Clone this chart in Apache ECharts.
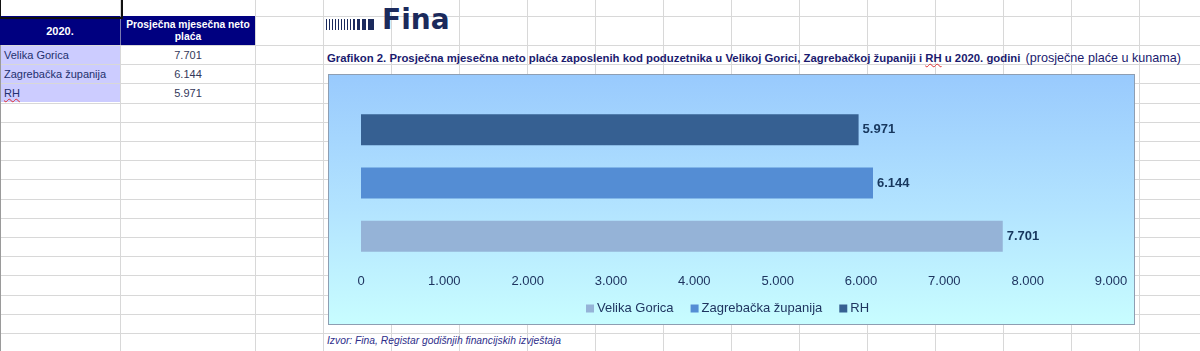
<!DOCTYPE html>
<html>
<head>
<meta charset="utf-8">
<script src="https://cdn.jsdelivr.net/npm/echarts@6/dist/echarts.min.js"></script>
<style>
body { margin: 0; width: 1200px; height: 351px; position: relative; overflow: hidden; background: #fff; font-family: "Liberation Sans", Arial, sans-serif; }
.hl { position: absolute; left: 0; width: 1200px; height: 1px; background: #d8d8d8; }
.vl { position: absolute; top: 0; height: 351px; width: 1px; background: #d8d8d8; }
.cell { position: absolute; box-sizing: border-box; display: flex; align-items: center; font-size: 11px; }
#logo { position: absolute; left: 326px; top: 6px; height: 30px; }
#logo .bar { position: absolute; bottom: 6px; height: 11px; background: #1b2a5c; }
#logo .word { position: absolute; left: 56px; top: -3px; font-family: "DejaVu Sans", sans-serif; font-weight: bold; font-size: 28px; color: #1b2a5c; }
#title { position: absolute; left: 327px; top: 51px; white-space: nowrap; color: #1a1a6e; font-size: 11.35px; font-weight: bold; }
#title .sub { font-weight: normal; font-size: 12.6px; margin-left: 2px; }
#source { position: absolute; left: 327px; top: 335px; white-space: nowrap; color: #2e2e8a; font-size: 10.3px; font-style: italic; font-family: "Liberation Sans Narrow", "Liberation Sans", sans-serif; }
#box { position: absolute; left: 328px; top: 74px; width: 807px; height: 251px; box-sizing: border-box; border: 1px solid #8e9eb2; background: linear-gradient(to bottom, #99cafd 0%, #b3e4ff 55%, #c8fdff 100%); }
#chart { position: absolute; left: 0; top: 0; width: 805px; height: 249px; }
.wavy { text-decoration: underline wavy #e03030; text-decoration-thickness: 1px; }
</style>
</head>
<body>
<div id="grid"></div>

<div class="cell" style="left:0;top:16px;width:121px;height:29px;background:#000080;"></div>
<div class="cell" style="left:121px;top:16px;width:134px;height:29px;background:#000080;"></div>
<div class="vl" style="left:120px;top:16px;height:29px;background:#7a7ab0;"></div>
<div class="cell" style="left:0;top:16px;width:120px;height:29px;justify-content:center;color:#fff;font-weight:bold;">2020.</div>
<div class="cell" style="left:121px;top:16px;width:134px;height:29px;justify-content:center;text-align:center;color:#fff;font-weight:bold;font-size:10.3px;line-height:12px;">Prosječna mjesečna neto<br>plaća</div>

<div id="rows"></div>

<div style="position:absolute;left:-1px;top:-2px;width:120px;height:17px;border:2px solid #111;"></div>

<div id="logo"></div>
<div id="title">Grafikon 2. Prosječna mjesečna neto plaća zaposlenih kod poduzetnika u Velikoj Gorici, Zagrebačkoj županiji i <span class="wavy">RH</span> u 2020. godini <span class="sub">(prosječne plaće u kunama)</span></div>

<div id="box"><div id="chart"></div></div>

<div id="source">Izvor: Fina, Registar godišnjih financijskih izvještaja</div>

<script>
// podaci
let categories = ['Velika Gorica', 'Zagrebačka županija', 'RH'];
let values = [7701, 6144, 5971];
let tableValues = ['7.701', '6.144', '5.971'];
let axisMin = 0;
let axisMax = 9000;
let axisStep = 1000;

let barColors = ['#95b3d7', '#548dd4', '#366092'];

// mreža tablice
let GRID = document.getElementById('grid');
let rowLines = [16];
for (let k = 0; k <= 16; k++) rowLines.push(45 + k * 19.2);
let colLines = [120, 255];
for (let x = 323; x < 1200; x += 68) colLines.push(x);
rowLines.forEach(y => {
	let D = document.createElement('div');
	D.className = 'hl';
	D.style.top = Math.round(y) + 'px';
	GRID.appendChild(D);
});
colLines.forEach(x => {
	let D = document.createElement('div');
	D.className = 'vl';
	D.style.left = Math.round(x) + 'px';
	GRID.appendChild(D);
});
let L = document.createElement('div');
L.className = 'vl';
L.style.left = '0px';
L.style.background = '#9a9a9a';
GRID.appendChild(L);

// redovi tablice
let ROWS = document.getElementById('rows');
categories.forEach((name, i) => {
	let top = Math.round(45 + i * 19.2) + 1;
	let A = document.createElement('div');
	A.className = 'cell';
	A.style.cssText = 'left:1px;top:' + top + 'px;width:119px;height:18px;background:#ccccff;color:#23306e;padding-left:3px;';
	if (name === 'RH') {
		A.innerHTML = '<span class="wavy">RH</span>';
	} else {
		A.textContent = name;
	}
	ROWS.appendChild(A);
	let B = document.createElement('div');
	B.className = 'cell';
	B.style.cssText = 'left:121px;top:' + top + 'px;width:134px;height:18px;justify-content:center;color:#33385a;';
	B.textContent = tableValues[i];
	ROWS.appendChild(B);
});

// logo
let LOGO = document.getElementById('logo');
let stripes = [[0,1],[3,1],[6,1],[9,1],[12,1],[15,1],[18,1],[21,1],[24,1],[27,2],[31,3],[36,4],[42,6]];
stripes.forEach(s => {
	let S = document.createElement('div');
	S.className = 'bar';
	S.style.left = s[0] + 'px';
	S.style.width = s[1] + 'px';
	LOGO.appendChild(S);
});
let WORD = document.createElement('div');
WORD.className = 'word';
WORD.textContent = 'Fina';
LOGO.appendChild(WORD);

function fmt(v) {
	return String(v).replace(/\B(?=(\d{3})+(?!\d))/g, '.');
}

let myChart = echarts.init(document.getElementById('chart'));

let series = categories.map((name, i) => ({
	name: name,
	type: 'bar',
	stack: 'placa',
	barWidth: 31,
	itemStyle: { color: barColors[i] },
	label: {
		show: true,
		position: 'right',
		distance: 4,
		fontFamily: 'Liberation Sans',
		fontWeight: 'bold',
		fontSize: 13,
		color: '#17375e',
		formatter: p => fmt(p.value)
	},
	data: categories.map((c, j) => (j === i ? values[i] : '-'))
}));

let option = {
	backgroundColor: 'transparent',
	animation: false,
	legend: {
		data: categories,
		top: 222,
		left: 252,
		icon: 'rect',
		itemWidth: 8,
		itemHeight: 8,
		itemGap: 17,
		textStyle: { fontFamily: 'Liberation Sans', fontSize: 13, color: '#1f3560', padding: [0, 0, 0, -2] }
	},
	grid: {
		left: 32,
		top: 28,
		width: 750,
		height: 160
	},
	xAxis: {
		type: 'value',
		min: axisMin,
		max: axisMax,
		interval: axisStep,
		axisLine: { show: false },
		axisTick: { show: false },
		splitLine: { show: false },
		axisLabel: {
			margin: 12,
			fontFamily: 'Liberation Sans',
			fontSize: 13,
			color: '#1f3560',
			formatter: v => fmt(v)
		}
	},
	yAxis: {
		type: 'category',
		data: categories,
		axisLine: { show: false },
		axisTick: { show: false },
		axisLabel: { show: false }
	},
	series: series
};

myChart.setOption(option);
</script>
</body>
</html>
